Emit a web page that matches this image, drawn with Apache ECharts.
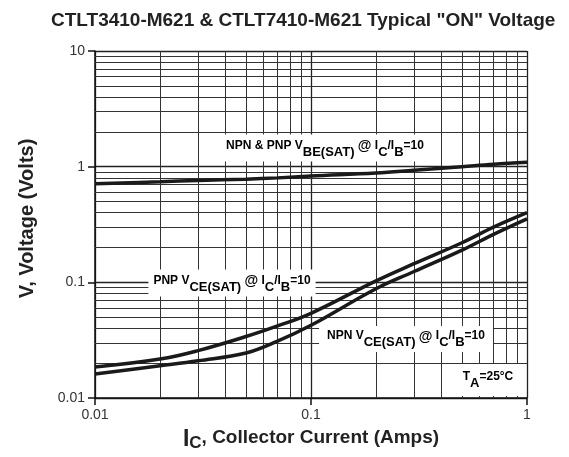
<!DOCTYPE html>
<html>
<head>
<meta charset="utf-8">
<script src="https://cdn.jsdelivr.net/npm/echarts@6/dist/echarts.min.js"></script>
<style>html,body{margin:0;padding:0;background:#fff}#c{width:569px;height:457px}</style>
</head>
<body>
<div id="c"></div>
<script>
// Collector current (A)
const current = [0.01, 0.02, 0.03, 0.05, 0.07, 0.1, 0.2, 0.3, 0.5, 0.7, 1];
// NPN & PNP VBE(SAT) (V)
const vbeSat = [0.71, 0.74, 0.76, 0.78, 0.80, 0.83, 0.88, 0.93, 1.0, 1.05, 1.09];
// PNP VCE(SAT) (V)
const pnpVceSat = [0.0185, 0.0217, 0.0257, 0.034, 0.042, 0.054, 0.103, 0.145, 0.22, 0.30, 0.40];
// NPN VCE(SAT) (V)
const npnVceSat = [0.0161, 0.019, 0.021, 0.0245, 0.031, 0.0425, 0.088, 0.124, 0.19, 0.26, 0.354];
// minor grid values
const minorX = [0.02,0.03,0.04,0.05,0.06,0.07,0.08,0.09,0.2,0.3,0.4,0.5,0.6,0.7,0.8,0.9];
const minorY = [0.02,0.03,0.04,0.05,0.06,0.07,0.08,0.09,0.2,0.3,0.4,0.5,0.6,0.7,0.8,0.9,2,3,4,5,6,7,8,9];

const FONT = 'Liberation Sans, Arial, sans-serif';
const chart = echarts.init(document.getElementById('c'), null, {renderer: 'canvas'});

const pair = (ys) => current.map((x, i) => [x, ys[i]]);
const curveStyle = {color: '#1a1a1a', width: 3.5};

const rich = {
  n: {fontFamily: FONT, fontWeight: 'bold', fontSize: 12, color: '#222', lineHeight: 13, verticalAlign: 'top'},
  s: {fontFamily: FONT, fontWeight: 'bold', fontSize: 13, color: '#222', lineHeight: 19, verticalAlign: 'bottom'},
  at: {fontFamily: FONT, fontWeight: 'bold', fontSize: 14, color: '#222', lineHeight: 14, verticalAlign: 'top'}
};

function label(text, x, y, pad) {
  return {
    type: 'text', z: 100, x: x, y: y,
    style: {
      text: text, rich: rich, align: 'center', verticalAlign: 'middle',
      backgroundColor: '#fff', padding: pad
    }
  };
}

chart.setOption({
  animation: false,
  title: {
    text: 'CTLT3410-M621 & CTLT7410-M621 Typical "ON" Voltage',
    left: 46, top: 6,
    textStyle: {fontFamily: FONT, fontWeight: 'bold', fontSize: 19, color: '#222'}
  },
  grid: {left: 95, right: 42, top: 51, bottom: 59, containLabel: false, outerBoundsMode: 'none'},
  xAxis: {
    type: 'log', logBase: 10, min: 0.01, max: 1,
    name: '{i|I}{c|C}{t|, Collector Current (Amps)}',
    nameLocation: 'middle', nameGap: 30,
    nameTextStyle: {
      rich: {
        i: {fontFamily: FONT, fontWeight: 'bold', fontSize: 23, color: '#222', lineHeight: 22, verticalAlign: 'top'},
        c: {fontFamily: FONT, fontWeight: 'bold', fontSize: 17, color: '#222', lineHeight: 22, verticalAlign: 'top', padding: [7, 0, 0, 0]},
        t: {fontFamily: FONT, fontWeight: 'bold', fontSize: 19, color: '#222', lineHeight: 22, verticalAlign: 'top'}
      }
    },
    axisLine: {show: true, onZero: false, lineStyle: {color: '#111', width: 1.5}},
    axisTick: {show: true, inside: false, length: 7, lineStyle: {color: '#111', width: 1.5}},
    axisLabel: {fontFamily: FONT, fontSize: 14, color: '#333', margin: 10,
      formatter: v => String(+v.toPrecision(3))},
    splitLine: {show: true, lineStyle: {color: '#222', width: 1.3}},
    minorTick: {show: false}
  },
  yAxis: {
    type: 'log', logBase: 10, min: 0.01, max: 10,
    name: 'V, Voltage (Volts)', nameLocation: 'middle', nameGap: 58, nameRotate: 90,
    nameTextStyle: {fontFamily: FONT, fontWeight: 'bold', fontSize: 20, color: '#222', padding: [0, 0, 0, 12]},
    axisLine: {show: true, onZero: false, lineStyle: {color: '#111', width: 1.5}},
    axisTick: {show: true, inside: false, length: 7, lineStyle: {color: '#111', width: 1.5}},
    axisLabel: {fontFamily: FONT, fontSize: 14, color: '#333', margin: 10,
      formatter: v => String(+v.toPrecision(3))},
    splitLine: {show: true, lineStyle: {color: '#222', width: 1.3}}
  },
  series: [
    {
      type: 'line', data: [], silent: true, z: 1,
      markLine: {
        silent: true, symbol: 'none', animation: false,
        label: {show: false},
        lineStyle: {color: '#333', width: 1, type: 'solid'},
        data: minorX.map(v => ({xAxis: v})).concat(minorY.map(v => ({yAxis: v})))
      }
    },
    {type: 'line', name: 'VBE', data: pair(vbeSat), smooth: 0.4, showSymbol: false, lineStyle: curveStyle, z: 5},
    {type: 'line', name: 'PNP VCE', data: pair(pnpVceSat), smooth: 0.4, showSymbol: false, lineStyle: curveStyle, z: 5},
    {type: 'line', name: 'NPN VCE', data: pair(npnVceSat), smooth: 0.4, showSymbol: false, lineStyle: curveStyle, z: 5}
  ],
  graphic: [
    label('{n|NPN & PNP V}{s|BE(SAT)}{n| }{at|@}{n| I}{s|C}{n|/I}{s|B}{n|=10}', 325, 148, [5, 5, 3, 5]),
    label('{n|PNP V}{s|CE(SAT)}{n| }{at|@}{n| I}{s|C}{n|/I}{s|B}{n|=10}', 232, 283, [5, 5, 3, 5]),
    label('{n|NPN V}{s|CE(SAT)}{n| }{at|@}{n| I}{s|C}{n|/I}{s|B}{n|=10}', 406, 339, [4, 8, 3, 8]),
    label('{n|T}{s|A}{n|=25°C}', 488, 380, [7, 10, 6, 10])
  ]
});
</script>
</body>
</html>
